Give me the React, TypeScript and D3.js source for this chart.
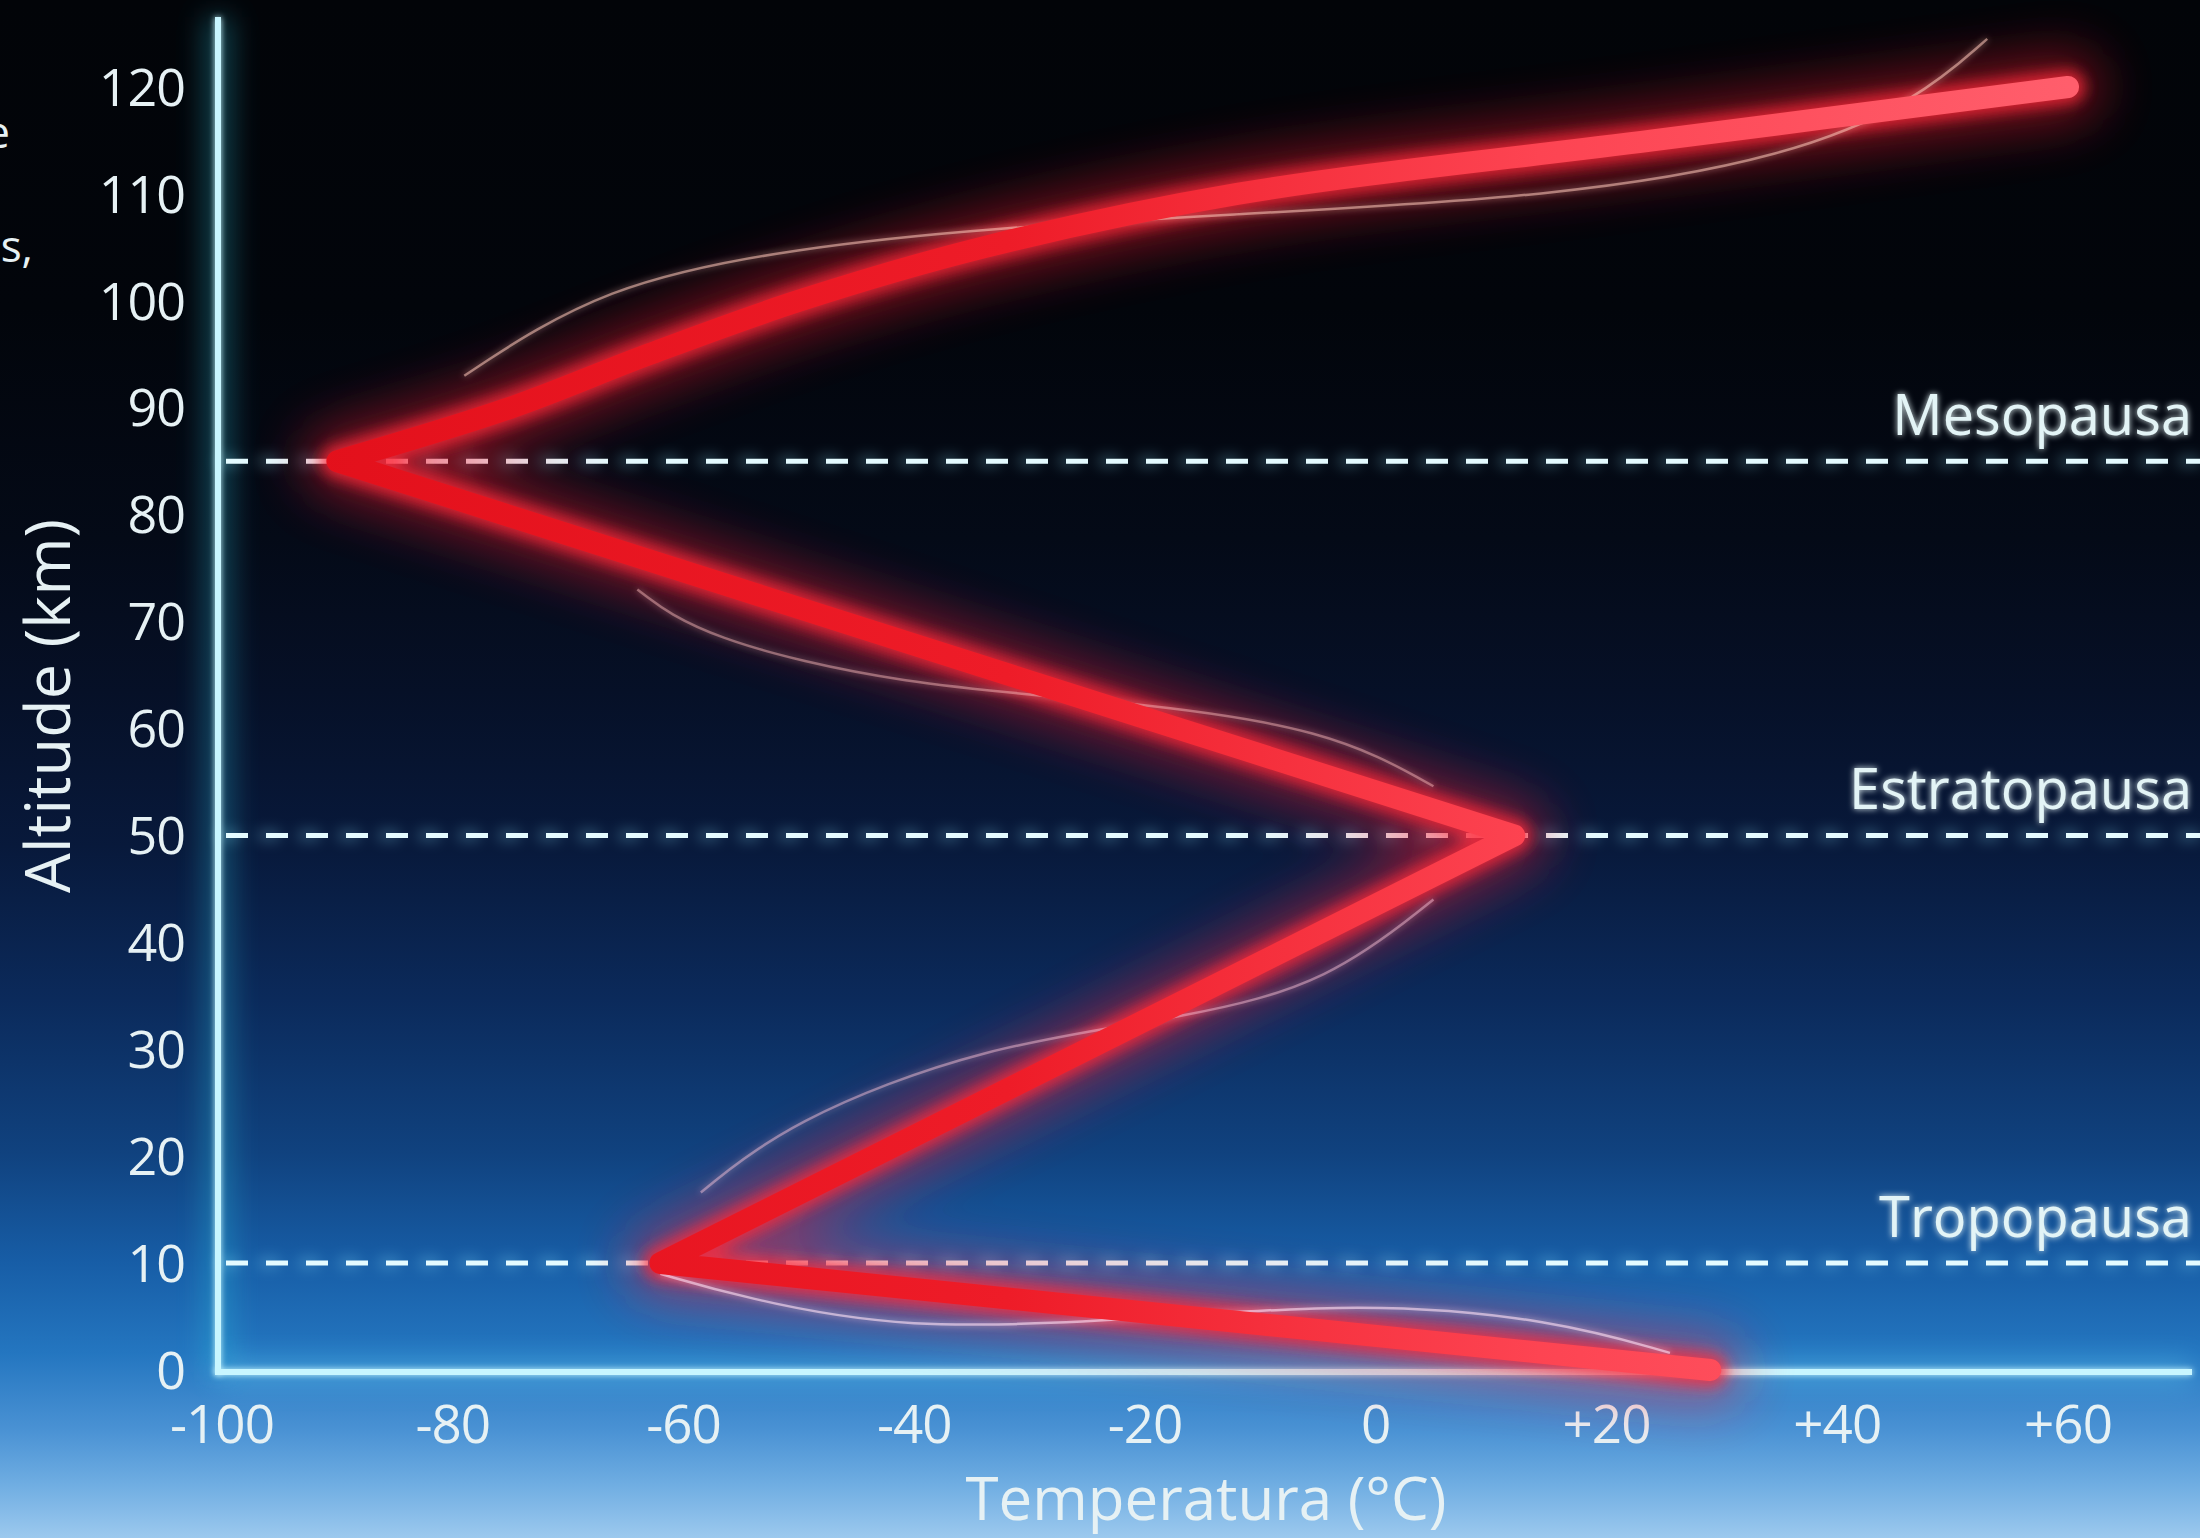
import React from 'react';
import * as d3 from 'd3';

const W = 2200;
const H = 1538;

// Temperature profile (altitude km -> temperature °C)
const altitudes = [0, 10, 50, 85, 90, 95, 100, 105, 110, 115, 120];
const temperatures = [29, -62, 12, -90, -75, -63, -50, -34, -12, 24, 60];

const yTicks = [0, 10, 20, 30, 40, 50, 60, 70, 80, 90, 100, 110, 120];
const xTicks = [-100, -80, -60, -40, -20, 0, 20, 40, 60];
const xTickLabels = ['-100', '-80', '-60', '-40', '-20', '0', '+20', '+40', '+60'];

const boundaryNames = ['Tropopausa', 'Estratopausa', 'Mesopausa'];
const boundaryAltitudes = [10, 50, 85];

// faint decorative wisps (temperature, altitude)
const wispUpperT = [-79, -67, -50, -33.5, -14, 16, 36, 47, 53];
const wispUpperA = [93, 101.5, 105, 106.8, 108, 109.7, 113.5, 118.8, 124.5];
const wispMidT = [-64, -58.5, -41, -22, -4, 5];
const wispMidA = [73, 68.5, 64, 62.6, 60, 54.6];
const wispLowT = [5, -4, -16, -34, -51, -58.5];
const wispLowA = [44, 36.3, 33, 30.4, 23.2, 16.6];
const wispBottomT = [-62, -55, -41, -21, -1, 15.5, 25.5];
const wispBottomA = [9, 6.8, 3.7, 4.7, 6.4, 4.7, 1.6];

type P = { t: number; a: number };

export default function App() {
  const x = d3.scaleLinear().domain([-100, 60]).range([222, 2068]);
  const y = d3.scaleLinear().domain([0, 120]).range([1370, 87]);

  const profile: P[] = altitudes.map((a, i) => ({ a, t: temperatures[i] }));
  const lin = d3.line<P>().x(d => x(d.t)).y(d => y(d.a)).curve(d3.curveLinear);
  const smooth = d3.line<P>().x(d => x(d.t)).y(d => y(d.a)).curve(d3.curveCatmullRom.alpha(0.5));
  const basis = d3.line<P>().x(d => x(d.t)).y(d => y(d.a)).curve(d3.curveBasis);

  const profilePath = (lin(profile.slice(0, 4)) || '') + (smooth(profile.slice(3)) || '');

  const mk = (ts: number[], as: number[]) => ts.map((t, i) => ({ t, a: as[i] }));
  const wisps = [
    { d: basis(mk(wispUpperT, wispUpperA)), c: 'rgba(255,200,185,0.55)' },
    { d: basis(mk(wispMidT, wispMidA)), c: 'rgba(255,190,190,0.45)' },
    { d: basis(mk(wispLowT, wispLowA)), c: 'rgba(255,200,220,0.45)' },
    { d: basis(mk(wispBottomT, wispBottomA)), c: 'rgba(255,225,245,0.6)' },
  ];

  const font = "'Open Sans', 'Noto Sans', sans-serif";
  const txt = '#e6f1f4';
  const x0 = x(-100) - 4;
  const yBase = y(0) + 2;
  const fu = { filterUnits: 'userSpaceOnUse' as const, x: 0, y: 0, width: W, height: H };

  return (
    <svg width={W} height={H} viewBox={`0 0 ${W} ${H}`}
      style={{ position: 'absolute', left: 0, top: 0, display: 'block' }}>
      <defs>
        <linearGradient id="bg" x1="0" y1="0" x2="0" y2="1">
          <stop offset="0" stopColor="#020408" />
          <stop offset="0.2" stopColor="#02050b" />
          <stop offset="0.35" stopColor="#040a17" />
          <stop offset="0.45" stopColor="#061027" />
          <stop offset="0.55" stopColor="#08193b" />
          <stop offset="0.65" stopColor="#0b2a5b" />
          <stop offset="0.75" stopColor="#10427f" />
          <stop offset="0.82" stopColor="#175da6" />
          <stop offset="0.88" stopColor="#2476c0" />
          <stop offset="0.93" stopColor="#4a92d4" />
          <stop offset="0.965" stopColor="#6fade2" />
          <stop offset="1" stopColor="#9cc9ee" />
        </linearGradient>
        <linearGradient id="redStroke" gradientUnits="userSpaceOnUse" x1="300" y1="0" x2="2070" y2="0">
          <stop offset="0" stopColor="#e3101b" />
          <stop offset="0.4" stopColor="#ee1c28" />
          <stop offset="0.7" stopColor="#fd4452" />
          <stop offset="1" stopColor="#ff5e6c" />
        </linearGradient>
        <filter id="wideGlow" {...fu}>
          <feGaussianBlur stdDeviation="26" />
        </filter>
        <filter id="nearGlow" {...fu}>
          <feGaussianBlur stdDeviation="7" />
        </filter>
        <filter id="softGlow" {...fu}>
          <feGaussianBlur stdDeviation="3" result="b" />
          <feMerge>
            <feMergeNode in="b" />
            <feMergeNode in="SourceGraphic" />
          </feMerge>
        </filter>
        <filter id="axisGlow" {...fu}>
          <feGaussianBlur stdDeviation="14" />
        </filter>
      </defs>

      <rect x={0} y={0} width={W} height={H} fill="url(#bg)" />

      {/* clipped fragments at the left edge */}
      <text x={10} y={148} textAnchor="end" fontFamily={font} fontSize={44} fill={txt}>e</text>
      <text x={33} y={262} textAnchor="end" fontFamily={font} fontSize={44} fill={txt}>s,</text>

      {/* axis glow */}
      <line x1={x0} y1={17} x2={x0} y2={yBase} stroke="#2fc6e0" strokeWidth={26} opacity={0.35} filter="url(#axisGlow)" />
      <line x1={x0} y1={yBase} x2={2192} y2={yBase} stroke="#6fe6ff" strokeWidth={20} opacity={0.35} filter="url(#axisGlow)" />

      {/* boundary dashed lines */}
      {boundaryAltitudes.map((a, i) => (
        <g key={boundaryNames[i]}>
          <line x1={x0} x2={W} y1={y(a)} y2={y(a)} stroke="#8fe9ff" strokeWidth={10}
            strokeDasharray="22 18" opacity={0.3} filter="url(#nearGlow)" />
          <line x1={x0 + 8} x2={W} y1={y(a)} y2={y(a)} stroke="#e4fbff" strokeWidth={5}
            strokeDasharray="22 18" />
          <text x={2192} y={y(a) - 26} textAnchor="end" fontFamily={font} fontSize={56}
            fill="#e3f4f6" filter="url(#softGlow)">{boundaryNames[i]}</text>
        </g>
      ))}

      {/* axes */}
      <line x1={x0} y1={17} x2={x0} y2={yBase + 3} stroke="#c8f6ff" strokeWidth={6} filter="url(#softGlow)" />
      <line x1={x0 - 3} y1={yBase} x2={2192} y2={yBase} stroke="#c8f6ff" strokeWidth={6} filter="url(#softGlow)" />

      {/* y ticks */}
      {yTicks.map(v => (
        <text key={'y' + v} x={185} y={y(v)} dy="0.36em" textAnchor="end" fontFamily={font}
          fontSize={52} letterSpacing={-1} fill={txt}>{v}</text>
      ))}
      {/* x ticks */}
      {xTicks.map((v, i) => (
        <text key={'x' + v} x={x(v)} y={1443} textAnchor="middle" fontFamily={font}
          fontSize={53} letterSpacing={-1} fill={txt}>{xTickLabels[i]}</text>
      ))}

      {/* axis titles */}
      <text transform="translate(70,706) rotate(-90)" textAnchor="middle" fontFamily={font}
        fontSize={63} fill={txt}>Altitude (km)</text>
      <text x={1206} y={1520} textAnchor="middle" fontFamily={font} fontSize={60}
        fill={txt}>Temperatura (°C)</text>

      {/* red profile glow */}
      <path d={profilePath} fill="none" stroke="#ff1e30" strokeWidth={70} opacity={0.45}
        strokeLinejoin="round" strokeLinecap="round" filter="url(#wideGlow)" />
      <path d={profilePath} fill="none" stroke="#ff2a3a" strokeWidth={34} opacity={0.75}
        strokeLinejoin="round" strokeLinecap="round" filter="url(#nearGlow)" />

      {/* decorative wisps */}
      {wisps.map((w, i) => (
        <path key={'w' + i} d={w.d || ''} fill="none" stroke={w.c} strokeWidth={2.5} filter="url(#softGlow)" />
      ))}

      {/* main profile */}
      <path d={profilePath} fill="none" stroke="url(#redStroke)" strokeWidth={22}
        strokeLinejoin="round" strokeLinecap="round" />
    </svg>
  );
}
